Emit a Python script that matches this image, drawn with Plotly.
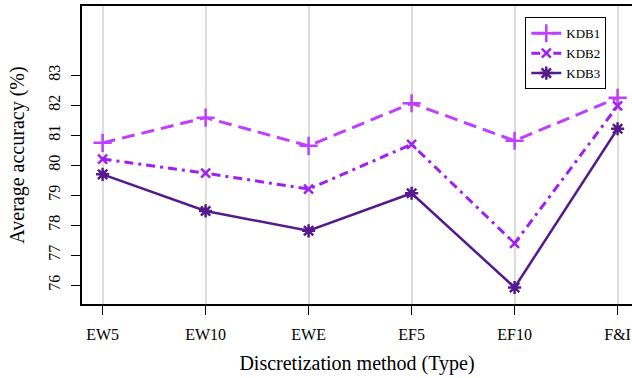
import plotly.graph_objects as go

# Average accuracy (%) per discretization method
methods = ["EW5", "EW10", "EWE", "EF5", "EF10", "F&I"]
kdb1 = [80.74, 81.58, 80.64, 82.06, 80.81, 82.24]
kdb2 = [80.20, 79.73, 79.20, 80.69, 77.39, 81.97]
kdb3 = [79.69, 78.47, 77.81, 79.06, 75.92, 81.21]

y_ticks = [76, 77, 78, 79, 80, 81, 82, 83]
y_grid = [76, 78, 80, 82, 84]
y_range = [75.37, 85.3]

serif = "Liberation Serif, Times New Roman, serif"

series = [
    dict(name="KDB1", y=kdb1, color="#BF3EFF", dash="13px,7px", symbol="cross-thin-open", size=13, width=3),
    dict(name="KDB2", y=kdb2, color="#A020F0", dash="9px,5px,3px,5px", symbol="x-thin-open", size=9, width=3),
    dict(name="KDB3", y=kdb3, color="#551A8B", dash="solid", symbol="asterisk-open", size=11, width=2.5),
]

fig = go.Figure()
for s in series:
    fig.add_trace(go.Scatter(
        x=methods, y=s["y"], name=s["name"], mode="lines+markers",
        line=dict(color=s["color"], width=s["width"], dash=s["dash"]),
        marker=dict(symbol=s["symbol"], size=s["size"], color=s["color"],
                    line=dict(color=s["color"], width=2.5)),
    ))

fig.update_layout(
    width=632, height=378,
    margin=dict(l=82, r=0, t=6, b=74),
    plot_bgcolor="white", paper_bgcolor="white",
    font=dict(family=serif, color="black", size=16),
    showlegend=True,
    legend=dict(
        x=0.806, y=0.962, xanchor="left", yanchor="top",
        bgcolor="white", bordercolor="black", borderwidth=1,
        font=dict(size=13, family=serif), itemwidth=30,
        tracegroupgap=0,
    ),
    xaxis=dict(
        type="category", range=[-0.2, 5.14],
        showline=True, linecolor="black", linewidth=1.5, mirror=True,
        ticks="outside", ticklen=9, tickcolor="black", tickwidth=1,
        showgrid=True, gridcolor="#dddddd", gridwidth=1.5,
        tickfont=dict(size=16), ticklabelstandoff=6,
        title=dict(text="Discretization method (Type)", font=dict(size=20), standoff=14),
        zeroline=False,
    ),
    yaxis=dict(
        range=y_range, tickmode="array", tickvals=y_ticks,
        ticktext=[str(v) for v in y_ticks], tickangle=-90,
        showline=True, linecolor="black", linewidth=1.5,
        ticks="outside", ticklen=9, tickcolor="black", tickwidth=1,
        showgrid=False, zeroline=False,
        tickfont=dict(size=16), ticklabelstandoff=5,
        title=dict(text="Average accuracy (%)", font=dict(size=20), standoff=16),
    ),
    yaxis2=dict(
        overlaying="y", range=y_range, tickmode="array", tickvals=y_grid,
        showgrid=True, gridcolor="#dddddd", gridwidth=1.5,
        showticklabels=False, ticks="", showline=False, zeroline=False,
    ),
)

fig.write_html("out.html")
